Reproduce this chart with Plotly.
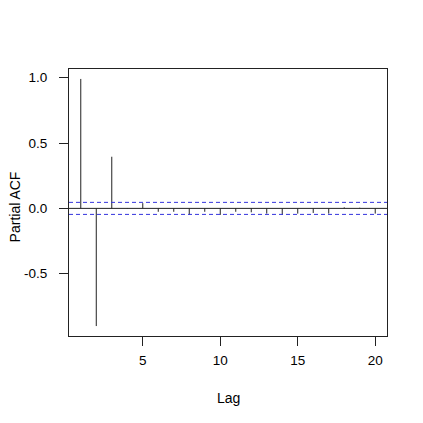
import plotly.graph_objects as go

lags = list(range(1, 21))
pacf = [0.99, -0.90, 0.395, 0.003, 0.04, -0.026, -0.026, -0.05, -0.026, -0.05,
        -0.026, -0.03, -0.04, -0.05, -0.04, -0.035, -0.04, 0.008, 0.005, -0.04]
clim = 0.046
x_ticks = [5, 10, 15, 20]
y_ticks = [-0.5, 0.0, 0.5, 1.0]
y_ticktext = ["-0.5", "0.0", "0.5", "1.0"]

xs, ys = [], []
for l, v in zip(lags, pacf):
    xs += [l, l, None]
    ys += [0, v, None]

fig = go.Figure()
fig.add_trace(go.Scatter(x=xs, y=ys, mode="lines",
                         line=dict(color="#222222", width=1), hoverinfo="skip"))

FONT = "Liberation Sans, Arial, Helvetica, sans-serif"
fig.update_layout(
    width=423, height=423,
    margin=dict(l=61, r=44, t=61, b=95),
    plot_bgcolor="white", paper_bgcolor="white",
    showlegend=False,
    font=dict(family=FONT, size=13, color="black"),
    xaxis=dict(range=[0.24, 20.76], tickvals=x_ticks, ticks="outside", ticklen=9,
               tickcolor="#222", showgrid=False, zeroline=False,
               showline=True, linecolor="#222", linewidth=1, mirror=True,
               ticklabelstandoff=3, tickfont=dict(size=13.5)),
    yaxis=dict(range=[-0.976, 1.066], tickvals=y_ticks, ticktext=y_ticktext,
               ticks="outside", ticklen=9, tickcolor="#222", showgrid=False,
               zeroline=False, showline=True, linecolor="#222", linewidth=1,
               mirror=True, ticklabelstandoff=9, tickfont=dict(size=13.5)),
    shapes=[
        dict(type="line", xref="paper", x0=0, x1=1, yref="y", y0=0, y1=0,
             line=dict(color="#222", width=1)),
        dict(type="line", xref="paper", x0=0, x1=1, yref="y", y0=clim, y1=clim,
             line=dict(color="#3333dd", width=1, dash="4px,3px")),
        dict(type="line", xref="paper", x0=0, x1=1, yref="y", y0=-clim, y1=-clim,
             line=dict(color="#3333dd", width=1, dash="4px,3px")),
    ],
    annotations=[
        dict(text="Lag", xref="paper", yref="paper", x=0.5, y=-0.234,
             showarrow=False, xanchor="center", yanchor="middle",
             font=dict(size=14)),
        dict(text="Partial ACF", xref="paper", yref="paper", x=-0.171, y=0.484,
             showarrow=False, xanchor="center", yanchor="middle", textangle=-90,
             font=dict(size=14)),
    ],
)

fig.write_html("out.html")
